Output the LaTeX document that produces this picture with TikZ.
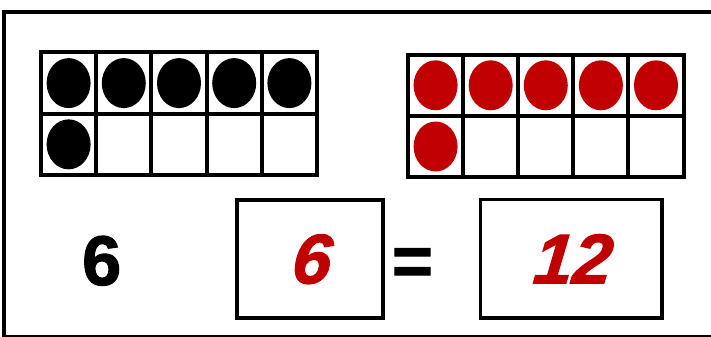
\documentclass[tikz,border=0pt]{standalone}
\usepackage{fontspec}
\setmainfont{Liberation Sans}
\newfontfamily\heavyfont{Liberation Sans}[BoldFeatures={FakeBold=1.6},BoldItalicFeatures={FakeBold=1.6,FakeSlant=0.1}]
\usetikzlibrary{shapes.geometric,positioning}
\definecolor{dotred}{HTML}{C00000}

\begin{document}
\begin{tikzpicture}[
  x=0.02cm, y=-0.02cm,
  cell/.style={draw,line width=0.08cm,minimum width=1.104cm,
               minimum height=1.225cm,inner sep=0pt,outer sep=0pt},
  counter/.style={ellipse,fill,minimum width=0.88cm,minimum height=1.0cm,inner sep=0pt},
  digit/.style={font=\heavyfont\bfseries\fontsize{40}{48}\selectfont,inner sep=0pt},
  answer/.style={draw,line width=0.07cm,inner sep=0pt,
                 font=\heavyfont\bfseries\itshape\fontsize{40}{48}\selectfont,text=dotred}
]
\useasboundingbox (0,0) rectangle (711,337);
\clip (0,0) rectangle (711,337);
\draw[line width=0.09cm] (4,12) rectangle (720,337);

% black ten-frame
\foreach \c in {0,...,4}
  \foreach \r in {0,1}
    \node[cell] (b\r\c) at ({68.6+55.2*\c},{83.1+61.25*\r}) {};
\foreach \c in {0,...,4}
  \node[counter] (bd\c) at (b0\c) {};
\node[counter] (bd5) at (b10) {};

% red ten-frame
\foreach \c in {0,...,4}
  \foreach \r in {0,1}
    \node[cell] (r\r\c) at ({435.6+55.1*\c},{85.3+61.2*\r}) {};
\foreach \c in {0,...,4}
  \node[counter,dotred] (rd\c) at (r0\c) {};
\node[counter,dotred] (rd5) at (r10) {};

% number sentence
\node[digit,anchor=base] (six) at (101.7,285) {6};
\node[answer,minimum width=2.92cm,minimum height=2.36cm] (box1) at (310,259.2) {6};
\node[digit,anchor=base] (eq) at (412.5,285) {=};
\node[answer,minimum width=3.63cm,minimum height=2.37cm] (box2) at (571.2,258.8) {12};
\end{tikzpicture}
\end{document}
